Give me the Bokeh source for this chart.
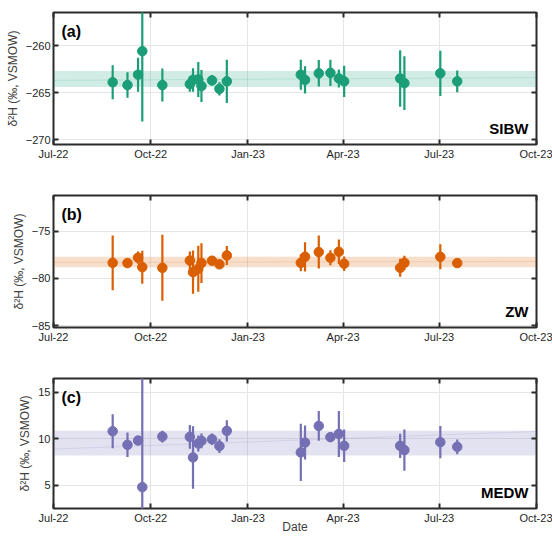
import numpy as np
import pandas as pd
from bokeh.plotting import figure
from bokeh.layouts import column
from bokeh.models import (FixedTicker, DatetimeTickFormatter, DatetimeAxis,
                          LinearAxis, BoxAnnotation, Label, Range1d)
from bokeh.embed import file_html
from bokeh.resources import INLINE

# ---------------- data ----------------
dates = ["2022-08-26", "2022-09-09", "2022-09-19", "2022-09-23", "2022-10-12",
         "2022-11-07", "2022-11-10", "2022-11-15", "2022-11-18", "2022-11-28",
         "2022-12-05", "2022-12-12", "2023-02-20", "2023-02-24", "2023-03-09",
         "2023-03-20", "2023-03-28", "2023-04-02", "2023-05-25", "2023-05-29",
         "2023-07-02", "2023-07-18"]

sibw_val = [-263.9, -264.2, -263.1, -260.6, -264.2, -264.1, -263.65, -263.6, -264.3, -263.7,
            -264.6, -263.8, -263.1, -263.65, -262.95, -262.9, -263.5, -263.8, -263.5, -264.0,
            -262.95, -263.8]
sibw_err = [1.8, 1.35, 1.8, 7.45, 1.75, 0.8, 1.25, 1.85, 1.7, 0.55,
            0.7, 2.3, 1.6, 1.45, 1.4, 1.4, 0.95, 1.65, 3.0, 2.85,
            2.4, 1.15]
sibw_band = [-264.4, -262.7]
sibw_trend = [-263.7, -263.4]

zw_val = [-78.34, -78.37, -77.8, -78.8, -78.87, -78.1, -79.33, -78.97, -78.37, -78.12,
          -78.5, -77.56, -78.34, -77.7, -77.2, -77.8, -77.17, -78.44, -78.87, -78.34,
          -77.7, -78.37]
zw_err = [2.9, 0.45, 0.65, 1.75, 3.5, 0.95, 2.3, 2.45, 2.1, 0.45,
          0.35, 1.0, 0.9, 1.55, 1.75, 0.8, 1.3, 0.77, 0.95, 0.76,
          1.33, 0.45]
zw_band = [-78.8, -77.7]
zw_trend = [-78.3, -78.2]

medw_val = [10.82, 9.36, 9.82, 4.8, 10.25, 10.21, 8.0, 9.5, 9.79, 9.96,
            9.22, 10.86, 8.54, 9.6, 11.39, 10.18, 10.53, 9.25, 9.25, 8.79,
            9.64, 9.14]
medw_err = [1.82, 1.32, 0.35, 12.5, 0.63, 1.28, 3.37, 0.85, 0.8, 0.62,
            0.75, 1.15, 3.08, 1.83, 1.6, 0.53, 2.48, 1.75, 1.3, 2.23,
            1.74, 0.8]
medw_band = [8.22, 10.86]
medw_trend = [8.9, 10.8]

xtick_dates = ["2022-07-01", "2022-10-01", "2023-01-01", "2023-04-01", "2023-07-01", "2023-10-01"]

# --------------------------------------
def ms(s):
    return pd.Timestamp(s).value / 1e6

X0, X1 = ms(xtick_dates[0]), ms(xtick_dates[-1])
XTICKS = [ms(d) for d in xtick_dates]
FRAME_W = 483.0
FRAME_H = 132.0
DARK = "#2b2b2b"
FONT = "Liberation Sans"
fmt = DatetimeTickFormatter(months="%b-%y", days="%b-%y", years="%b-%y",
                            hours="%b-%y", minutes="%b-%y", seconds="%b-%y",
                            milliseconds="%b-%y", minsec="%b-%y", hourmin="%b-%y")
xdates = pd.to_datetime(dates)


def style_axis(ax, show_labels=True):
    ax.axis_line_color = None
    ax.major_tick_in = 5
    ax.major_tick_out = 0
    ax.major_tick_line_color = DARK
    ax.major_tick_line_width = 2
    ax.minor_tick_line_color = None
    ax.major_label_text_font = FONT
    ax.major_label_text_color = "#262626"
    ax.major_label_standoff = 3
    if show_labels:
        ax.major_label_text_font_size = "11px"
    else:
        ax.major_label_text_font_size = "1px"
        ax.major_label_text_color = None
        ax.major_label_standoff = 0


def panel(vals, errs, color, band, trend, yr, yticks, letter, name, height,
          top_border, bottom_border):
    p = figure(width=552, height=height, x_axis_type="datetime",
               x_range=Range1d(X0, X1), y_range=Range1d(*yr),
               output_backend="svg", toolbar_location=None,
               min_border_left=53, min_border_right=16, min_border_top=top_border,
               min_border_bottom=bottom_border)
    p.background_fill_color = "white"
    p.border_fill_color = "white"
    p.outline_line_color = DARK
    p.outline_line_width = 2
    p.outline_line_alpha = 1

    bx = p.below[0]
    bx.ticker = FixedTicker(ticks=XTICKS)
    bx.formatter = fmt
    style_axis(bx)
    ly = p.left[0]
    ly.ticker = FixedTicker(ticks=yticks)
    style_axis(ly)
    ly.axis_label = "δ²H (‰, VSMOW)"
    ly.axis_label_text_font = FONT
    ly.axis_label_text_font_style = "normal"
    ly.axis_label_text_font_size = "12px"
    ly.axis_label_text_color = "#404040"
    ly.axis_label_standoff = 3

    top = DatetimeAxis(ticker=FixedTicker(ticks=XTICKS), formatter=fmt)
    style_axis(top, show_labels=False)
    p.add_layout(top, "above")
    right = LinearAxis(ticker=FixedTicker(ticks=yticks))
    style_axis(right, show_labels=False)
    p.add_layout(right, "right")

    p.xgrid.grid_line_color = "#e6e6e6"
    p.ygrid.grid_line_color = "#e6e6e6"
    p.xgrid.grid_line_width = 1
    p.ygrid.grid_line_width = 1

    p.add_layout(BoxAnnotation(bottom=band[0], top=band[1], fill_color=color,
                               fill_alpha=0.2, line_color=None, level="underlay"))
    p.line([X0, X1], trend, line_color=color, line_alpha=0.15, line_width=1)

    v = np.array(vals)
    e = np.array(errs)
    p.segment(x0=xdates, y0=v - e, x1=xdates, y1=v + e, line_color=color, line_width=2.2)
    p.scatter(xdates, v, size=9.5, fill_color=color, line_color=color)

    ypp = (yr[1] - yr[0]) / FRAME_H
    xpp = (X1 - X0) / FRAME_W
    p.add_layout(Label(x=X0 + 8 * xpp, y=yr[1] - 19 * ypp, text=letter,
                       text_font=FONT, text_font_style="bold", text_font_size="16px",
                       text_color="black", text_baseline="middle", text_align="left"))
    p.add_layout(Label(x=X1 - 8 * xpp, y=yr[0] + 16 * ypp, text=name,
                       text_font=FONT, text_font_style="bold", text_font_size="15px",
                       text_color="black", text_baseline="middle", text_align="right"))
    return p


pa = panel(sibw_val, sibw_err, "#1b9e77", sibw_band, sibw_trend, (-270.5, -256.5),
           [-270, -265, -260], "(a)", "SIBW", 191, 12, 47)
pb = panel(zw_val, zw_err, "#d95f02", zw_band, zw_trend, (-85.2, -71.2),
           [-85, -80, -75], "(b)", "ZW", 183, 4, 47)
pc = panel(medw_val, medw_err, "#7570b3", medw_band, medw_trend, (2.5, 16.5),
           [5, 10, 15], "(c)", "MEDW", 162, 4, 26)

xb = pc.below[0]
xb.axis_label = "Date"
xb.axis_label_text_font = FONT
xb.axis_label_text_font_style = "normal"
xb.axis_label_text_font_size = "12px"
xb.axis_label_text_color = "#404040"
xb.axis_label_standoff = -7

layout = column(pa, pb, pc, spacing=0)
open("out.html", "w").write(file_html(layout, INLINE))
